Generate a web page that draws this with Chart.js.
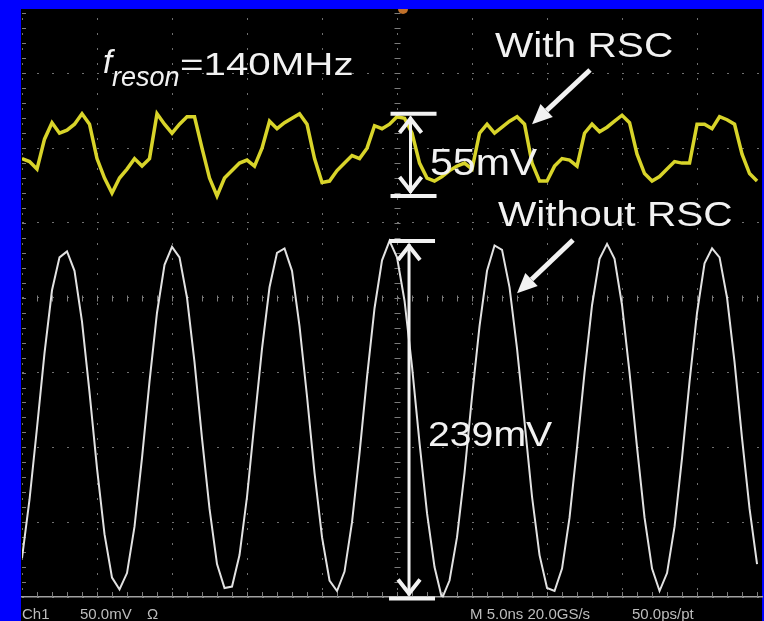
<!DOCTYPE html>
<html>
<head>
<meta charset="utf-8">
<title>Resonance with and without RSC</title>
<script src="https://cdn.jsdelivr.net/npm/chart.js"></script>
<style>
  html, body { margin: 0; padding: 0; background: #0000ff; }
  #scope { display: block; }
</style>
</head>
<body>
<canvas id="scope" width="764" height="621"></canvas>
<script>
// sample times in ns (5 ns/div time base)
const sampleNs = [
  0, 0.5, 1, 1.5, 2, 2.5, 3, 3.5, 4, 4.5,
  5, 5.5, 6, 6.5, 7, 7.5, 8, 8.5, 9, 9.5,
  10, 10.5, 11, 11.5, 12, 12.5, 13, 13.5, 14, 14.5,
  15, 15.5, 16, 16.5, 17, 17.5, 18, 18.5, 19, 19.5,
  20, 20.5, 21, 21.5, 22, 22.5, 23, 23.5, 24, 24.5,
  25, 25.5, 26, 26.5, 27, 27.5, 28, 28.5, 29, 29.5,
  30, 30.5, 31, 31.5, 32, 32.5, 33, 33.5, 34, 34.5,
  35, 35.5, 36, 36.5, 37, 37.5, 38, 38.5, 39, 39.5,
  40, 40.5, 41, 41.5, 42, 42.5, 43, 43.5, 44, 44.5,
  45, 45.5, 46, 46.5, 47, 47.5, 48, 48.5, 49
];

// trace voltages in mV (50 mV/div, screen centre = 0)
const withRscMv = [
  93, 91, 86, 106, 117, 110, 112, 116, 123, 116,
  93, 80, 70, 80, 86, 93, 88, 93, 123, 116,
  110, 116, 121, 121, 100, 80, 68, 80, 85, 90,
  92, 88, 100, 118, 113, 117, 120, 123, 116, 93,
  77, 78, 85, 90, 95, 93, 100, 115, 113, 116,
  121, 120, 110, 90, 80, 78, 81, 85, 88, 90,
  86, 110, 116, 110, 114, 118, 121, 116, 90, 78,
  78, 88, 93, 92, 88, 110, 116, 111, 114, 118,
  122, 117, 96, 83, 78, 81, 86, 91, 90, 90,
  116, 116, 113, 121, 119, 116, 96, 83, 78
];

const withoutRscMv = [
  -174, -135, -87, -37, 5, 27, 31, 18, -16, -63,
  -114, -158, -187, -195, -184, -153, -107, -56, -10, 22,
  34, 27, 0, -43, -94, -141, -178, -194, -193, -172,
  -133, -83, -34, 7, 30, 33, 18, -19, -66, -117,
  -160, -189, -196, -183, -150, -104, -53, -7, 25, 38,
  27, -2, -46, -97, -144, -180, -201, -189, -160, -117,
  -66, -19, 18, 35, 32, 7, -34, -83, -133, -172,
  -194, -196, -181, -147, -100, -50, -5, 26, 36, 26,
  -5, -50, -100, -147, -181, -196, -184, -153, -107, -56,
  -10, 23, 33, 27, 0, -43, -94, -141, -178
];

// measured peak-to-peak spans drawn as dimension arrows
const withRscSpan = { top: 123, bottom: 68, text: '55mV' };
const withoutRscSpan = { top: 38, bottom: -201, text: '239mV' };

const statusLeft = ['Ch1', '50.0mV', 'Ω'];
const statusRight = ['M 5.0ns 20.0GS/s', '50.0ps/pt'];

const SANS = '"Liberation Sans", Arial, sans-serif';

// blue frame and black screen
const screenBg = {
  id: 'screenBg',
  beforeDraw(chart) {
    const ctx = chart.ctx;
    ctx.save();
    ctx.fillStyle = '#0000ff';
    ctx.fillRect(0, 0, chart.width, chart.height);
    ctx.fillStyle = '#000000';
    ctx.fillRect(21, 9, 741, chart.height - 9);
    ctx.restore();
  }
};

// minor division marks on the centre cross and the screen edges
const graticule = {
  id: 'graticule',
  beforeDatasetsDraw(chart) {
    const { ctx, chartArea: a } = chart;
    const x = chart.scales.x, y = chart.scales.y;
    const cx = Math.round(x.getPixelForValue(25)) + 0.5;
    const cy = Math.round(y.getPixelForValue(0)) + 0.5;
    ctx.save();
    ctx.strokeStyle = '#7c7c7c';
    ctx.lineWidth = 1;
    ctx.beginPath();
    for (let t = 1; t < x.max; t += 1) {
      const px = Math.round(x.getPixelForValue(t)) + 0.5;
      ctx.moveTo(px, cy - 3); ctx.lineTo(px, cy + 3);
      ctx.moveTo(px, a.bottom); ctx.lineTo(px, a.bottom - 5);
    }
    for (let v = -190; v < y.max; v += 10) {
      const py = Math.round(y.getPixelForValue(v)) + 0.5;
      ctx.moveTo(cx - 3, py); ctx.lineTo(cx + 3, py);
      ctx.moveTo(a.left, py); ctx.lineTo(a.left + 4, py);
    }
    ctx.stroke();
    ctx.restore();
  }
};

function label(ctx, str, x, y, font, sx) {
  ctx.save();
  ctx.translate(x, y);
  ctx.scale(sx, 1);
  ctx.font = font;
  ctx.fillText(str, 0, 0);
  ctx.restore();
}

function dimension(ctx, px, top, bottom) {
  ctx.lineWidth = 4;
  ctx.beginPath();
  ctx.moveTo(px - 20, top); ctx.lineTo(px + 26, top);
  ctx.moveTo(px - 20, bottom); ctx.lineTo(px + 26, bottom);
  ctx.stroke();
  ctx.lineWidth = 3;
  ctx.beginPath();
  ctx.moveTo(px, top + 3); ctx.lineTo(px, bottom - 3);
  ctx.stroke();
  ctx.lineWidth = 4;
  ctx.lineJoin = 'miter';
  ctx.beginPath();
  ctx.moveTo(px - 11, top + 19); ctx.lineTo(px, top + 5); ctx.lineTo(px + 11, top + 19);
  ctx.moveTo(px - 11, bottom - 19); ctx.lineTo(px, bottom - 5); ctx.lineTo(px + 11, bottom - 19);
  ctx.stroke();
}

function pointer(ctx, x0, y0, x1, y1) {
  const ang = Math.atan2(y1 - y0, x1 - x0);
  const len = 20, w = 9;
  const bx = x1 - len * Math.cos(ang), by = y1 - len * Math.sin(ang);
  ctx.lineWidth = 5;
  ctx.beginPath();
  ctx.moveTo(x0, y0); ctx.lineTo(bx, by);
  ctx.stroke();
  ctx.beginPath();
  ctx.moveTo(x1, y1);
  ctx.lineTo(bx + w * Math.sin(ang), by - w * Math.cos(ang));
  ctx.lineTo(bx - w * Math.sin(ang), by + w * Math.cos(ang));
  ctx.closePath();
  ctx.fill();
}

// labels, arrows and status line
const notes = {
  id: 'notes',
  afterDatasetsDraw(chart) {
    const ctx = chart.ctx;
    const x = chart.scales.x, y = chart.scales.y;
    ctx.save();

    // trigger position marker
    ctx.fillStyle = '#c0702a';
    ctx.beginPath();
    ctx.arc(x.getPixelForValue(25.4), 9, 5, 0, Math.PI);
    ctx.fill();

    ctx.fillStyle = '#f2f2f2';
    ctx.strokeStyle = '#f2f2f2';
    label(ctx, 'f', 103, 73, 'italic 33px ' + SANS, 1);
    label(ctx, 'reson', 112, 86, 'italic 27px ' + SANS, 1);
    label(ctx, '=140MHz', 180, 75, '31px ' + SANS, 1.3);
    label(ctx, 'With RSC', 495, 57, '35px ' + SANS, 1.16);
    label(ctx, 'Without RSC', 498, 226, '35px ' + SANS, 1.16);
    label(ctx, withRscSpan.text, 430, 175, '36px ' + SANS, 1.14);
    label(ctx, withoutRscSpan.text, 428, 446, '35px ' + SANS, 1.12);

    dimension(ctx, x.getPixelForValue(25.9), y.getPixelForValue(withRscSpan.top), y.getPixelForValue(withRscSpan.bottom));
    dimension(ctx, x.getPixelForValue(25.8), y.getPixelForValue(withoutRscSpan.top), y.getPixelForValue(withoutRscSpan.bottom));

    pointer(ctx, 590, 70, x.getPixelForValue(34), y.getPixelForValue(116));
    pointer(ctx, 573, 240, x.getPixelForValue(33), y.getPixelForValue(3));

    // status line under the graticule
    ctx.fillStyle = '#bdbdbd';
    ctx.font = '15px ' + SANS;
    ctx.fillText(statusLeft[0], 22, 619);
    ctx.fillText(statusLeft[1], 80, 619);
    ctx.fillText(statusLeft[2], 147, 619);
    ctx.fillText(statusRight[0], 470, 619);
    ctx.fillText(statusRight[1], 632, 619);
    ctx.restore();
  }
};

new Chart(document.getElementById('scope'), {
  type: 'line',
  data: {
    labels: sampleNs,
    datasets: [
      {
        label: 'With RSC',
        data: withRscMv,
        borderColor: '#d8d42a',
        borderWidth: 3.5,
        pointRadius: 0,
        tension: 0
      },
      {
        label: 'With RSC core',
        data: withRscMv,
        borderColor: 'rgba(236,236,205,0.85)',
        borderWidth: 1,
        pointRadius: 0,
        tension: 0
      },
      {
        label: 'Without RSC',
        data: withoutRscMv,
        borderColor: '#e2e2e2',
        borderWidth: 2,
        pointRadius: 0,
        tension: 0
      }
    ]
  },
  options: {
    responsive: false,
    animation: false,
    devicePixelRatio: 1,
    layout: { padding: { left: 22, top: 9, right: 2, bottom: 24 } },
    plugins: {
      legend: { display: false },
      tooltip: { enabled: false }
    },
    scales: {
      x: {
        type: 'linear',
        min: 0,
        max: 49.33,
        ticks: { display: false, stepSize: 5, includeBounds: false },
        grid: { color: '#707070', lineWidth: 1, drawTicks: false },
        border: { display: true, color: '#a0a0a0', width: 1.5, dash: [2, 13], dashOffset: 6 }
      },
      y: {
        type: 'linear',
        min: -200,
        max: 193,
        ticks: { display: false, stepSize: 50, includeBounds: false },
        grid: { color: '#707070', lineWidth: 1, drawTicks: false },
        border: { display: false, dash: [2, 13], dashOffset: 0 }
      }
    }
  },
  plugins: [screenBg, graticule, notes]
});
</script>
</body>
</html>
